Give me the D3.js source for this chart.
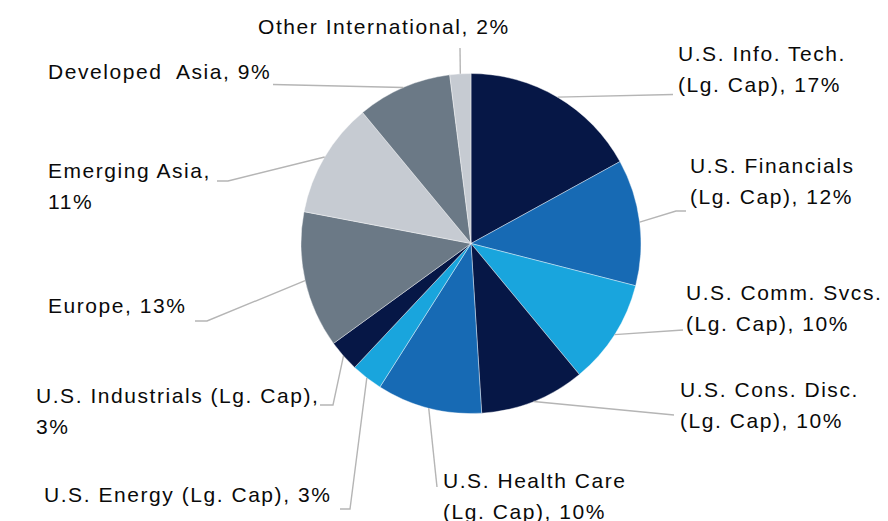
<!DOCTYPE html>
<html>
<head>
<meta charset="utf-8">
<script src="https://cdn.jsdelivr.net/npm/d3@7"></script>
<style>
  body { margin: 0; background: #fff; }
  svg { display: block; }
</style>
</head>
<body>
<svg></svg>
<script>
// slices, clockwise from 12 o'clock
const sectors = [
    'U.S. Info. Tech. (Lg. Cap)',
    'U.S. Financials (Lg. Cap)',
    'U.S. Comm. Svcs. (Lg. Cap)',
    'U.S. Cons. Disc. (Lg. Cap)',
    'U.S. Health Care (Lg. Cap)',
    'U.S. Energy (Lg. Cap)',
    'U.S. Industrials (Lg. Cap)',
    'Europe',
    'Emerging Asia',
    'Developed Asia',
    'Other International'
];
const weights = [17, 12, 10, 10, 10, 3, 3, 13, 11, 9, 2];
// label text as it wraps in the picture
const labelLines = [
    ['U.S. Info. Tech.', '(Lg. Cap), 17%'],
    ['U.S. Financials', '(Lg. Cap), 12%'],
    ['U.S. Comm. Svcs.', '(Lg. Cap), 10%'],
    ['U.S. Cons. Disc.', '(Lg. Cap), 10%'],
    ['U.S. Health Care', '(Lg. Cap), 10%'],
    ['U.S. Energy (Lg. Cap), 3%'],
    ['U.S. Industrials (Lg. Cap),', '3%'],
    ['Europe, 13%'],
    ['Emerging Asia,', '11%'],
    ['Developed  Asia, 9%'],
    ['Other International, 2%']
];

const navy = '#061746', blue = '#176ab4', sky = '#19a5dd', slate = '#6b7986', mist = '#c6cbd2';
const colors = [navy, blue, sky, navy, blue, sky, navy, slate, mist, slate, mist];

// label placement: text origin, then leader line points after the slice edge
const labelPos = [
    { x: 678, y: 61, pts: [[673, 94.5]] },
    { x: 690, y: 173, pts: [[676, 211], [686, 211]] },
    { x: 686, y: 300, pts: [[683, 330]] },
    { x: 680, y: 397, pts: [[674, 415]] },
    { x: 443, y: 488, pts: [[437, 487]] },
    { x: 44, y: 502, pts: [[350, 509], [340, 509]] },
    { x: 36, y: 403, pts: [[333, 405], [320, 405]] },
    { x: 48, y: 313, pts: [[207, 321], [195, 321]] },
    { x: 48, y: 178, pts: [[228, 181], [217, 181]] },
    { x: 48, y: 79, pts: [[273, 84.5]] },
    { x: 258, y: 34, pts: [[460, 48]] }
];

const svgWidth = 888;
const svgHeight = 521;
const cx = 471, cy = 243.5, radius = 170;

const svg = d3.select('svg')
    .attr('width', svgWidth)
    .attr('height', svgHeight);

const pie = d3.pie().sort(null).value(d => d.value);
const arcs = pie(sectors.map((s, i) => ({ name: s, value: weights[i] })));

const arc = d3.arc().innerRadius(0).outerRadius(radius);

const g = svg.append('g')
    .attr('transform', `translate(${cx}, ${cy})`);

g.selectAll('path.slice')
    .data(arcs)
    .enter().append('path')
    .attr('class', 'slice')
    .attr('d', arc)
    .attr('fill', (d, i) => colors[i])
    .attr('stroke', '#fff')
    .attr('stroke-width', 0.4);

// leader lines start on the rim at each slice's middle angle
const line = d3.line();
svg.selectAll('path.leader')
    .data(arcs)
    .enter().append('path')
    .attr('class', 'leader')
    .attr('fill', 'none')
    .attr('stroke', '#b5b5b5')
    .attr('stroke-width', 1.4)
    .attr('d', (d, i) => {
        const a = (d.startAngle + d.endAngle) / 2;
        const start = [cx + Math.sin(a) * radius, cy - Math.cos(a) * radius];
        return line([start].concat(labelPos[i].pts));
    });

const labels = svg.selectAll('text.label')
    .data(arcs)
    .enter().append('text')
    .attr('class', 'label')
    .attr('x', (d, i) => labelPos[i].x)
    .attr('y', (d, i) => labelPos[i].y)
    .attr('font-family', '"Liberation Sans", Arial, sans-serif')
    .attr('font-size', '21px')
    .attr('letter-spacing', '1.55px')
    .attr('fill', '#0a0a0a')
    .style('white-space', 'pre');

labels.each(function (d, i) {
    d3.select(this).selectAll('tspan')
        .data(labelLines[i])
        .enter().append('tspan')
        .attr('x', labelPos[i].x)
        .attr('dy', (t, j) => j === 0 ? 0 : 30.5)
        .text(t => t);
});
</script>
</body>
</html>
